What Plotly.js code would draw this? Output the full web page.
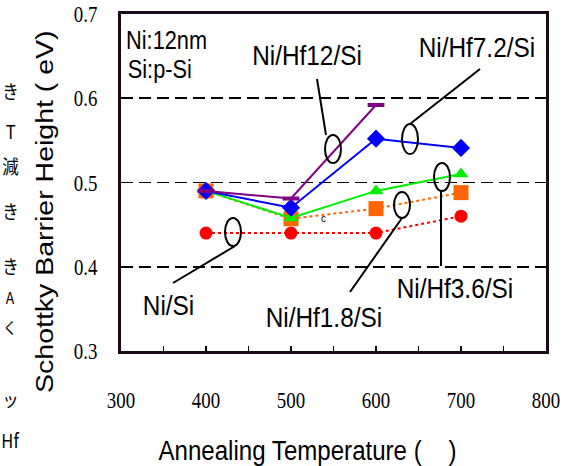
<!DOCTYPE html>
<html>
<head>
<meta charset="utf-8">
<script src="https://cdn.plot.ly/plotly-3.0.1.min.js"></script>
<style>
html,body{margin:0;padding:0;background:#fff;}
#chart{width:576px;height:466px;}
</style>
</head>
<body>
<div id="chart"></div>
<script>
// ---- data ----
const temps = [400, 500, 600, 700];
const temps12 = [400, 500, 600];
const niSi = [0.44, 0.44, 0.44, 0.46];
const niHf18 = [0.49, 0.457, 0.469, 0.488];
const niHf36 = [0.49, 0.458, 0.49, 0.51];
const niHf72 = [0.49, 0.47, 0.552, 0.541];
const niHf12 = [0.49, 0.481, 0.592];
const xTicks = [300, 400, 500, 600, 700, 800];
const yTicks = [0.3, 0.4, 0.5, 0.6, 0.7];
const yTitle = 'Schottky Barrier Height ( eV)';

const SANS = '"Liberation Sans", Arial, sans-serif';
const SERIF = '"Liberation Serif", "Times New Roman", serif';

// pixel -> data helper for annotation placement (plot area 121..546 x 14..351)
const P = (px, py) => ({x: 300 + (px - 121) / 0.85, y: 0.7 - (py - 14) / 842.5});

const traces = [
  {x: temps, y: niSi, mode: 'lines+markers', name: 'Ni/Si',
   line: {color: '#ff0000', width: 2, dash: 'dot'},
   marker: {symbol: 'circle', size: 13, color: '#ff0000'}},
  {x: temps, y: niHf18, mode: 'lines+markers', name: 'Ni/Hf1.8/Si',
   line: {color: '#ff6600', width: 2, dash: 'dot'},
   marker: {symbol: 'square', size: 15, color: '#ff6600'}},
  {x: temps, y: niHf36, mode: 'lines+markers', name: 'Ni/Hf3.6/Si',
   line: {color: '#00ee00', width: 2},
   marker: {symbol: 'triangle-up', size: 13, color: '#00ee00'}},
  {x: temps, y: niHf72, mode: 'lines+markers', name: 'Ni/Hf7.2/Si',
   line: {color: '#0000ff', width: 2},
   marker: {symbol: 'diamond', size: 14, color: '#0000ff'}},
  {x: temps12, y: niHf12, mode: 'lines+markers', name: 'Ni/Hf12/Si',
   line: {color: '#800080', width: 2},
   marker: {symbol: 'line-ew', size: 12, line: {color: '#800080', width: 4}}}
];

function ell(cx, cy, rx, ry) {
  const a = P(cx - rx, cy - ry), b = P(cx + rx, cy + ry);
  return {type: 'circle', xref: 'x', yref: 'y', x0: a.x, x1: b.x, y0: a.y, y1: b.y,
          line: {color: '#000', width: 2}};
}
function seg(x0, y0, x1, y1) {
  const a = P(x0, y0), b = P(x1, y1);
  return {type: 'line', xref: 'x', yref: 'y', x0: a.x, y0: a.y, x1: b.x, y1: b.y,
          line: {color: '#000', width: 2}};
}
const shapes = [
  ell(233, 232, 8, 14), seg(173, 283, 235, 246),
  ell(333, 149, 8, 14), seg(317, 79, 326, 135),
  ell(410, 139, 8, 15), seg(480, 69, 410, 124),
  ell(402, 205, 8, 13), seg(350, 292, 402, 218),
  ell(442, 177, 8, 14), seg(441, 266, 441, 191)
];

function txt(text, px, py, size, family) {
  const p = P(px, py);
  return {x: p.x, y: p.y, xref: 'x', yref: 'y', text: text, showarrow: false,
          xanchor: 'center', yanchor: 'middle',
          font: {family: family || SANS, size: size, color: '#000'}};
}
const annotations = [
  txt('Ni:12nm', 166, 40, 25),
  txt('Si:p-Si', 160, 69, 25),
  txt('Ni/Hf12/Si', 307, 55, 28),
  txt('Ni/Hf7.2/Si', 477, 47, 28),
  txt('Ni/Si', 168, 305, 28),
  txt('Ni/Hf1.8/Si', 324, 317, 28),
  txt('Ni/Hf3.6/Si', 455, 288, 28),
  txt('c', 323, 218, 10),
  // y-axis title, placed like the reference (centred below the plot middle)
  {x: (45 - 121) / 425, y: (351 - 212) / 337, xref: 'paper', yref: 'paper',
   text: yTitle, textangle: -90, showarrow: false, xanchor: 'center', yanchor: 'middle',
   font: {family: SANS, size: 28.5, color: '#000'}}
];
const junk = [['き', 90, 19], ['T', 130, 19], ['減', 165, 19], ['き', 210, 19], ['き', 265, 19],
              ['A', 297, 16], ['く', 327, 16], ['ッ', 398, 19], ['Hf', 440, 19]];
junk.forEach(j => annotations.push({
  x: (10 - 121) / 425, y: (351 - j[1]) / 337, xref: 'paper', yref: 'paper',
  text: j[0], showarrow: false, xanchor: 'center', yanchor: 'middle',
  font: {family: '"Noto Sans CJK JP", "Liberation Sans", sans-serif', size: j[2], color: '#000'}
}));

const layout = {
  width: 576, height: 466,
  margin: {l: 121, r: 30, t: 14, b: 115},
  paper_bgcolor: '#fff', plot_bgcolor: '#fff',
  showlegend: false,
  xaxis: {
    range: [300, 800], tickvals: xTicks, ticktext: xTicks.map(String),
    ticks: 'inside', ticklen: 5, tickwidth: 1.5, tickcolor: '#000',
    minor: {dtick: 50, tick0: 300, ticks: 'inside', ticklen: 5, tickcolor: '#000', tickwidth: 1.5},
    showgrid: false, zeroline: false,
    showline: true, mirror: true, linecolor: '#1a0a1a', linewidth: 3,
    ticklabelstandoff: 26,
    tickfont: {family: SERIF, size: 23, color: '#000'},
    title: {text: 'Annealing Temperature (\u00a0\u00a0\u00a0\u00a0)', standoff: 31,
            font: {family: SANS, size: 28, color: '#000'}}
  },
  yaxis: {
    range: [0.3, 0.7], tickvals: yTicks, ticktext: yTicks.map(v => v.toFixed(1)),
    ticks: '', showgrid: true, gridcolor: '#000', gridwidth: 1.8, griddash: '12px,6px',
    zeroline: false,
    showline: true, mirror: true, linecolor: '#1a0a1a', linewidth: 3,
    ticklabelstandoff: 16,
    tickfont: {family: SERIF, size: 23, color: '#000'}
  },
  shapes: shapes,
  annotations: annotations
};

// squeeze a text in its local frame (axis 'x' or 'y'), re-applied only if Plotly reset it
function squeeze(el, k, mode, dx, dy, axis) {
  const cur = el.getAttribute('transform') || '';
  if (el.__fixed !== undefined && el.__fixed === cur) return;
  const bb = el.getBBox();
  let s;
  if (axis === 'y') {
    const cy = bb.y + bb.height / 2;
    s = `translate(0,${cy}) scale(1,${k}) translate(0,${-cy})`;
  } else {
    let cx = bb.x + bb.width / 2;
    if (mode === 'right') cx = bb.x + bb.width;
    s = `translate(${cx},0) scale(${k},1) translate(${-cx},0)`;
  }
  const shift = (dx || dy) ? `translate(${dx || 0},${dy || 0}) ` : '';
  el.setAttribute('transform', shift + cur + ' ' + s);
  el.__fixed = el.getAttribute('transform');
}
let busy = false;
function fixTexts(gd) {
  if (busy) return;
  busy = true;
  try {
    gd.querySelectorAll('.annotation-text').forEach(el => {
      const t = el.textContent;
      if (t === 'c') return;
      if (t === yTitle) squeeze(el, 0.82, 'center', 0, 0, 'y');
      else squeeze(el, 0.87, 'center');
    });
    gd.querySelectorAll('.xtick text').forEach(el => squeeze(el, 0.82, 'center'));
    gd.querySelectorAll('.ytick text').forEach(el => squeeze(el, 0.82, 'right'));
    const xt = gd.querySelector('text.xtitle');
    if (xt) squeeze(xt, 0.86, 'center', -26, 0);
  } catch (e) { /* leave texts unsqueezed */ }
  busy = false;
}

Plotly.newPlot('chart', traces, layout, {displayModeBar: false, staticPlot: true}).then(gd => {
  fixTexts(gd);
  const mo = new MutationObserver(() => fixTexts(gd));
  mo.observe(gd, {subtree: true, childList: true, attributes: true, attributeFilter: ['transform']});
  requestAnimationFrame(() => fixTexts(gd));
  setTimeout(() => fixTexts(gd), 30);
  setTimeout(() => fixTexts(gd), 150);
});
</script>
</body>
</html>
